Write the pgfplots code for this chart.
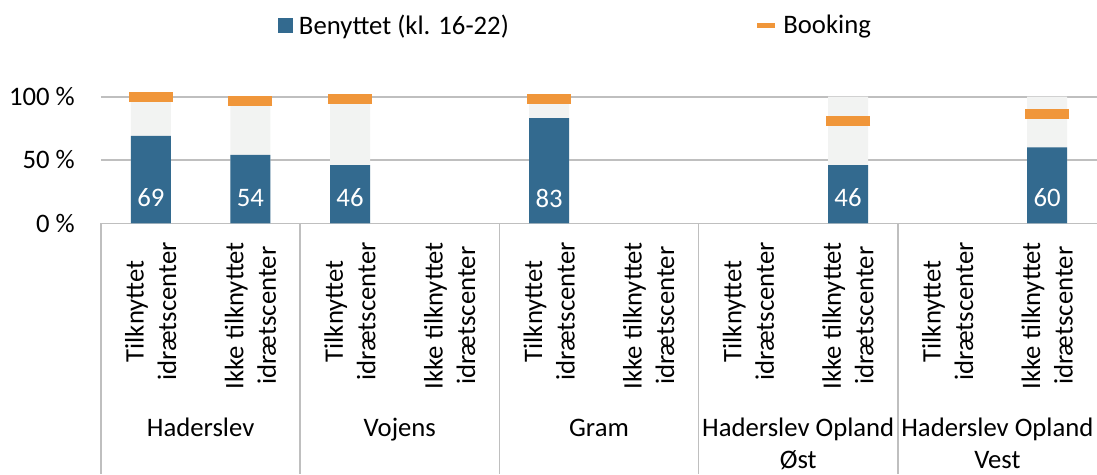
\documentclass[border=0pt]{standalone}
\usepackage{pgfplots}
\pgfplotsset{compat=1.18}
\usepackage{fontspec}
\setmainfont{Carlito}
\usetikzlibrary{calc}
\definecolor{cblue}{HTML}{336A8F}
\definecolor{corange}{HTML}{F0963A}
\definecolor{cgrey}{HTML}{F2F3F2}
\definecolor{cline}{HTML}{BFBFBF}
\newcommand\f{\fontsize{26.7pt}{32.5pt}\selectfont}
\begin{document}
\begin{tikzpicture}
\begin{axis}[name=ax, scale only axis, width=996pt, height=126.6pt,
  xmin=0, xmax=10, ymin=0, ymax=100,
  axis line style={draw=none}, xtick=\empty,
  ytick={0,50,100}, yticklabels={0 \%,50 \%,100 \%},
  ymajorgrids, grid style={cline, line width=1.6pt},
  major tick length=0pt,
  yticklabel style={font=\f, anchor=east, inner sep=0pt, xshift=-26pt},
  /pgf/number format/assume math mode=true,
  clip=false,
  legend columns=2, legend cell align=left,
  legend style={at={(0.1777,1.566)}, anchor=west, draw=none, fill=none, inner sep=0pt, outer sep=0pt, font=\f, column sep=0pt,
    /tikz/every even column/.append style={column sep=244pt}},
]
\addplot[ybar, bar width=40pt, bar shift=0pt, fill=cgrey, draw=none, forget plot]
 coordinates {(0.5,100)(1.5,100)(2.5,100)(4.5,100)(7.5,100)(9.5,100)};
\addplot[ybar, bar width=40pt, bar shift=0pt, fill=cblue, draw=none,
  legend image code/.code={\path[draw=none,fill=none] (0pt,0pt) -- (19pt,0pt); \fill[cblue] (0pt,-7.5pt) rectangle (15pt,7.5pt);}]
 coordinates {(0.5,69)(1.5,54)(2.5,46)(4.5,83)(7.5,46)(9.5,60)};
\addlegendentry{Benyttet (kl. 16-22)}
\addplot[only marks, mark=-, mark size=22pt, mark options={draw=corange, line width=10pt},
  legend image code/.code={\path[draw=none,fill=none] (0pt,0pt) -- (24pt,0pt); \draw[corange, line width=5pt] (0pt,0pt) -- (18pt,0pt);}]
 coordinates {(0.5,100)(1.5,97)(2.5,98)(4.5,98)(7.5,81)(9.5,86)};
\addlegendentry{Booking}
\addplot[draw=none, mark=none, forget plot, nodes near coords, point meta=explicit symbolic,
  nodes near coords style={font=\f, text=white, anchor=center}]
 coordinates {(0.5,20)[69] (1.5,20)[54] (2.5,20)[46] (4.5,20)[83] (7.5,20)[46] (9.5,20)[60]};

\foreach \xx in {0,2,4,6,8} {
  \edef\tmp{\noexpand\draw[cline, line width=1.6pt] (axis cs:\xx,0) -- ++(0,-250.7pt);}
  \tmp
}
\node[rotate=90, anchor=east, align=center, inner sep=0pt, font=\f] at ($(axis cs:0.5,0)+(0,-18.7pt)$) {Tilknyttet\\idrætscenter};
\node[rotate=90, anchor=east, align=center, inner sep=0pt, font=\f] at ($(axis cs:1.5,0)+(0,-18.7pt)$) {Ikke tilknyttet\\idrætscenter};
\node[rotate=90, anchor=east, align=center, inner sep=0pt, font=\f] at ($(axis cs:2.5,0)+(0,-18.7pt)$) {Tilknyttet\\idrætscenter};
\node[rotate=90, anchor=east, align=center, inner sep=0pt, font=\f] at ($(axis cs:3.5,0)+(0,-18.7pt)$) {Ikke tilknyttet\\idrætscenter};
\node[rotate=90, anchor=east, align=center, inner sep=0pt, font=\f] at ($(axis cs:4.5,0)+(0,-18.7pt)$) {Tilknyttet\\idrætscenter};
\node[rotate=90, anchor=east, align=center, inner sep=0pt, font=\f] at ($(axis cs:5.5,0)+(0,-18.7pt)$) {Ikke tilknyttet\\idrætscenter};
\node[rotate=90, anchor=east, align=center, inner sep=0pt, font=\f] at ($(axis cs:6.5,0)+(0,-18.7pt)$) {Tilknyttet\\idrætscenter};
\node[rotate=90, anchor=east, align=center, inner sep=0pt, font=\f] at ($(axis cs:7.5,0)+(0,-18.7pt)$) {Ikke tilknyttet\\idrætscenter};
\node[rotate=90, anchor=east, align=center, inner sep=0pt, font=\f] at ($(axis cs:8.5,0)+(0,-18.7pt)$) {Tilknyttet\\idrætscenter};
\node[rotate=90, anchor=east, align=center, inner sep=0pt, font=\f] at ($(axis cs:9.5,0)+(0,-18.7pt)$) {Ikke tilknyttet\\idrætscenter};

\node[anchor=base, inner sep=0pt, font=\f] at ($(axis cs:1,0)+(0,-212.7pt)$) {Haderslev};
\node[anchor=base, inner sep=0pt, font=\f] at ($(axis cs:3,0)+(0,-212.7pt)$) {Vojens};
\node[anchor=base, inner sep=0pt, font=\f] at ($(axis cs:5,0)+(0,-212.7pt)$) {Gram};
\node[anchor=base, inner sep=0pt, font=\f] at ($(axis cs:7,0)+(0,-212.7pt)$) {Haderslev Opland};
\node[anchor=base, inner sep=0pt, font=\f] at ($(axis cs:7,0)+(0,-244.7pt)$) {Øst};
\node[anchor=base, inner sep=0pt, font=\f] at ($(axis cs:9,0)+(0,-212.7pt)$) {Haderslev Opland};
\node[anchor=base, inner sep=0pt, font=\f] at ($(axis cs:9,0)+(0,-244.7pt)$) {Vest};
\end{axis}
\pgfresetboundingbox
\path ($(ax.south west)+(-101pt,-250.7pt)$) rectangle ($(ax.south west)+(996pt,223.3pt)$);
\end{tikzpicture}
\end{document}
